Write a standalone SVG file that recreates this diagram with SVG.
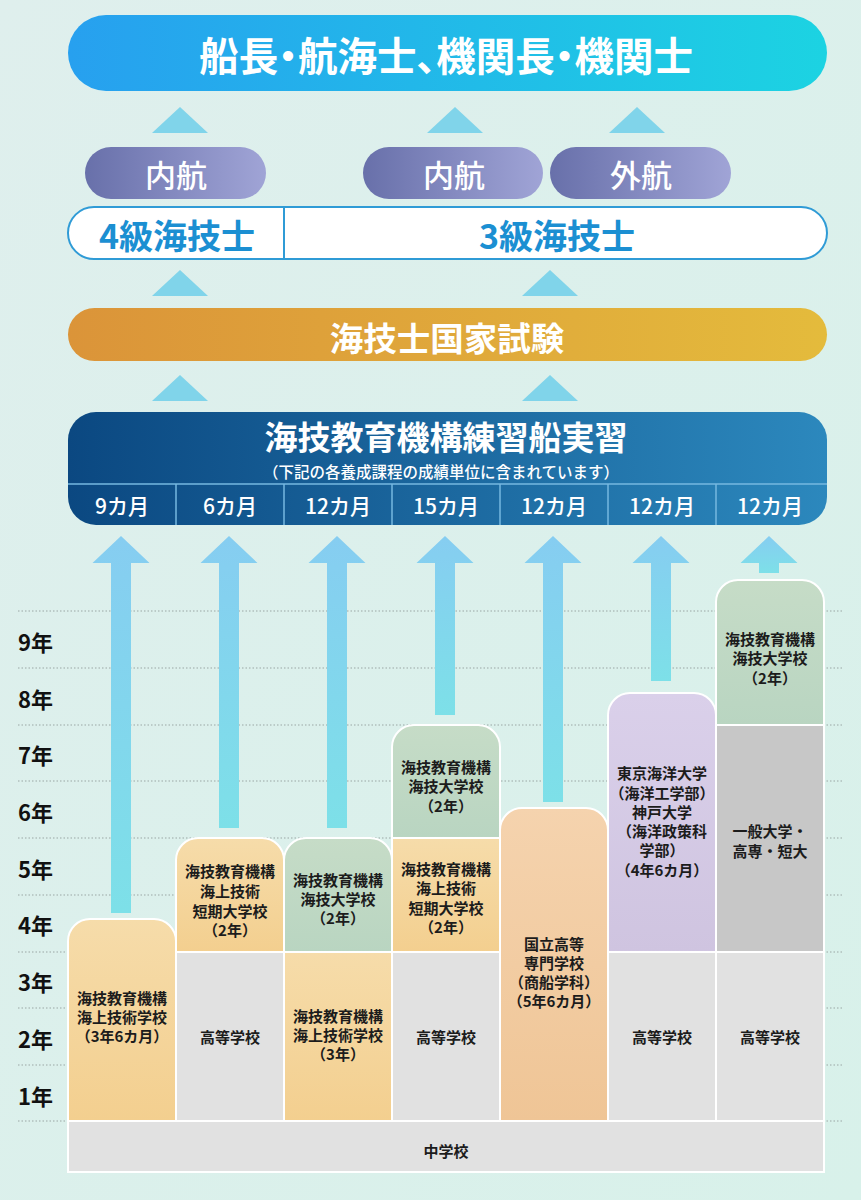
<svg xmlns="http://www.w3.org/2000/svg" width="861" height="1200" viewBox="0 0 861 1200">
<defs>
<linearGradient id="gTop" x1="0" y1="0" x2="1" y2="0"><stop offset="0" stop-color="#27a0ef"/><stop offset="1" stop-color="#1cd3e2"/></linearGradient>
<linearGradient id="gPill" x1="0" y1="0" x2="1" y2="0"><stop offset="0" stop-color="#6870aa"/><stop offset="1" stop-color="#a0a4d6"/></linearGradient>
<linearGradient id="gOr" x1="0" y1="0" x2="1" y2="0"><stop offset="0" stop-color="#db9439"/><stop offset="1" stop-color="#e4bb3c"/></linearGradient>
<linearGradient id="gNavy" x1="0" y1="0" x2="1" y2="0"><stop offset="0" stop-color="#0b4881"/><stop offset="1" stop-color="#2c88bd"/></linearGradient>
<linearGradient id="gArrow" x1="0" y1="0" x2="0" y2="1"><stop offset="0" stop-color="#86cdf1"/><stop offset="1" stop-color="#7de0e8"/></linearGradient>
<linearGradient id="gYel" x1="0" y1="0" x2="0" y2="1"><stop offset="0" stop-color="#f6dcaa"/><stop offset="1" stop-color="#f3cf8f"/></linearGradient>
<linearGradient id="gPeach" x1="0" y1="0" x2="0" y2="1"><stop offset="0" stop-color="#f5d3ae"/><stop offset="1" stop-color="#efc596"/></linearGradient>
<linearGradient id="gGreen" x1="0" y1="0" x2="0" y2="1"><stop offset="0" stop-color="#c6dcc7"/><stop offset="1" stop-color="#b9d5c1"/></linearGradient>
<linearGradient id="gPurp" x1="0" y1="0" x2="0" y2="1"><stop offset="0" stop-color="#dad0ea"/><stop offset="1" stop-color="#cfc4e0"/></linearGradient>
<linearGradient id="gBg" x1="0" y1="0" x2="1" y2="1"><stop offset="0" stop-color="#dfefed"/><stop offset="1" stop-color="#d8f1ea"/></linearGradient>
</defs>
<style>
text{font-family:"Noto Sans CJK JP","Noto Sans",sans-serif;font-weight:700;text-anchor:middle;dominant-baseline:central}
.w{fill:#ffffff}
.box{font-size:15px;fill:#1c1c1c}
.yr{font-size:22px;fill:#111111;text-anchor:start;font-weight:600}
.mo{font-size:21px;fill:#ffffff;font-weight:500}
.tri{fill:#80d4ea}
.arrow{fill:url(#gArrow)}
.grid{stroke:#9aa6a4;stroke-width:1;stroke-dasharray:1.5 2}
.cell{stroke:#ffffff;stroke-width:2}
</style>
<rect width="861" height="1200" fill="url(#gBg)"/>

<g id="grid">
<line class="grid" x1="18" y1="611" x2="842" y2="611"/>
<line class="grid" x1="18" y1="668" x2="842" y2="668"/>
<line class="grid" x1="18" y1="725" x2="842" y2="725"/>
<line class="grid" x1="18" y1="781" x2="842" y2="781"/>
<line class="grid" x1="18" y1="838" x2="842" y2="838"/>
<line class="grid" x1="18" y1="895" x2="842" y2="895"/>
<line class="grid" x1="18" y1="952" x2="842" y2="952"/>
<line class="grid" x1="18" y1="1008" x2="842" y2="1008"/>
<line class="grid" x1="18" y1="1065" x2="842" y2="1065"/>
<line class="grid" x1="18" y1="1121" x2="842" y2="1121"/>
</g>
<g id="years">
<text class="yr" x="18" y="641">9年</text>
<text class="yr" x="18" y="698">8年</text>
<text class="yr" x="18" y="754">7年</text>
<text class="yr" x="18" y="811">6年</text>
<text class="yr" x="18" y="868">5年</text>
<text class="yr" x="18" y="924">4年</text>
<text class="yr" x="18" y="981">3年</text>
<text class="yr" x="18" y="1038">2年</text>
<text class="yr" x="18" y="1095">1年</text>
</g>

<g id="connectors">
<polygon class="tri" points="152,133 180,107 208,133"/>
<polygon class="tri" points="427,133 455,107 483,133"/>
<polygon class="tri" points="609,133 637,107 665,133"/>
<polygon class="tri" points="152,296 180,270 208,296"/>
<polygon class="tri" points="522,296 550,270 578,296"/>
<polygon class="tri" points="152,401 180,375 208,401"/>
<polygon class="tri" points="522,401 550,375 578,401"/>
<polygon class="arrow" points="121,536 149.5,563 131,563 131,913 111,913 111,563 92.5,563"/>
<polygon class="arrow" points="229,536 257.5,563 239,563 239,828 219,828 219,563 200.5,563"/>
<polygon class="arrow" points="337,536 365.5,563 347,563 347,828 327,828 327,563 308.5,563"/>
<polygon class="arrow" points="445,536 473.5,563 455,563 455,715 435,715 435,563 416.5,563"/>
<polygon class="arrow" points="553,536 581.5,563 563,563 563,802 543,802 543,563 524.5,563"/>
<polygon class="arrow" points="661,536 689.5,563 671,563 671,681 651,681 651,563 632.5,563"/>
<polygon class="arrow" points="769,536 797.5,563 779,563 779,573 759,573 759,563 740.5,563"/>
</g>

<g id="goal">
<rect x="68" y="15" width="759" height="76" rx="38" fill="url(#gTop)"/>
<text class="w" x="446" y="53" style="font-size:39.5px;font-feature-settings:'palt'">船長・航海士、機関長・機関士</text>
</g>
<g id="naikou4">
<rect x="85" y="147" width="181" height="52" rx="26" fill="url(#gPill)"/>
<text class="w" x="176" y="173" style="font-size:31px;font-weight:500">内航</text>
</g>
<g id="naikou3">
<rect x="363" y="147" width="180" height="52" rx="26" fill="url(#gPill)"/>
<text class="w" x="454" y="173" style="font-size:31px;font-weight:500">内航</text>
</g>
<g id="gaikou3">
<rect x="550" y="147" width="181" height="52" rx="26" fill="url(#gPill)"/>
<text class="w" x="641" y="173" style="font-size:31px;font-weight:500">外航</text>
</g>
<g id="license">
<rect x="68" y="207" width="759" height="52" rx="26" fill="#ffffff" stroke="#2f9bd6" stroke-width="2"/>
<line x1="284" y1="207" x2="284" y2="259" stroke="#2f9bd6" stroke-width="2"/>
<text x="177" y="234" style="font-size:34px;fill:#1b8fd2">4級海技士</text>
<text x="557" y="234" style="font-size:34px;fill:#1b8fd2">3級海技士</text>
</g>
<g id="exam">
<rect x="68" y="308" width="759" height="53" rx="26.5" fill="url(#gOr)"/>
<text class="w" x="447" y="336" style="font-size:33.5px">海技士国家試験</text>
</g>
<g id="training">
<rect x="68" y="412" width="759" height="113" rx="28" fill="url(#gNavy)"/>
<text class="w" x="446" y="436" style="font-size:33px">海技教育機構練習船実習</text>
<text class="w" x="441" y="471" style="font-size:15.5px;font-weight:500">（下記の各養成課程の成績単位に含まれています）</text>
<g stroke="#76b8e0" stroke-width="1.5">
<line x1="68" y1="484" x2="827" y2="484"/>
<line x1="176" y1="484" x2="176" y2="525"/>
<line x1="284" y1="484" x2="284" y2="525"/>
<line x1="392" y1="484" x2="392" y2="525"/>
<line x1="500" y1="484" x2="500" y2="525"/>
<line x1="608" y1="484" x2="608" y2="525"/>
<line x1="716" y1="484" x2="716" y2="525"/>
</g>
<text class="mo" x="122" y="505">9カ月</text>
<text class="mo" x="230" y="505">6カ月</text>
<text class="mo" x="338" y="505">12カ月</text>
<text class="mo" x="446" y="505">15カ月</text>
<text class="mo" x="554" y="505">12カ月</text>
<text class="mo" x="662" y="505">12カ月</text>
<text class="mo" x="770" y="505">12カ月</text>
</g>

<g id="col1">
<path class="cell" d="M68 1121 V941 A22 22 0 0 1 90 919 H154 A22 22 0 0 1 176 941 V1121 Z" fill="url(#gYel)"/>
<text class="box" x="122" y="997">海技教育機構</text>
<text class="box" x="122" y="1016">海上技術学校</text>
<text class="box" x="122" y="1035">（3年6カ月）</text>
</g>
<g id="col2">
<path class="cell" d="M176 952 V860 A22 22 0 0 1 198 838 H262 A22 22 0 0 1 284 860 V952 Z" fill="url(#gYel)"/>
<text class="box" x="230" y="870">海技教育機構</text>
<text class="box" x="230" y="890">海上技術</text>
<text class="box" x="230" y="910">短期大学校</text>
<text class="box" x="230" y="929">（2年）</text>
<rect class="cell" x="176" y="952" width="108" height="169" fill="#e1e1e1"/>
<text class="box" x="230" y="1036">高等学校</text>
</g>
<g id="col3">
<path class="cell" d="M284 952 V860 A22 22 0 0 1 306 838 H370 A22 22 0 0 1 392 860 V952 Z" fill="url(#gGreen)"/>
<text class="box" x="338" y="879">海技教育機構</text>
<text class="box" x="338" y="898">海技大学校</text>
<text class="box" x="338" y="917">（2年）</text>
<rect class="cell" x="284" y="952" width="108" height="169" fill="url(#gYel)"/>
<text class="box" x="338" y="1015">海技教育機構</text>
<text class="box" x="338" y="1034">海上技術学校</text>
<text class="box" x="338" y="1053">（3年）</text>
</g>
<g id="col4">
<path class="cell" d="M392 838 V747 A22 22 0 0 1 414 725 H478 A22 22 0 0 1 500 747 V838 Z" fill="url(#gGreen)"/>
<text class="box" x="446" y="766">海技教育機構</text>
<text class="box" x="446" y="785">海技大学校</text>
<text class="box" x="446" y="805">（2年）</text>
<rect class="cell" x="392" y="838" width="108" height="114" fill="url(#gYel)"/>
<text class="box" x="446" y="868">海技教育機構</text>
<text class="box" x="446" y="887">海上技術</text>
<text class="box" x="446" y="907">短期大学校</text>
<text class="box" x="446" y="926">（2年）</text>
<rect class="cell" x="392" y="952" width="108" height="169" fill="#e1e1e1"/>
<text class="box" x="446" y="1036">高等学校</text>
</g>
<g id="col5">
<path class="cell" d="M500 1121 V830 A22 22 0 0 1 522 808 H586 A22 22 0 0 1 608 830 V1121 Z" fill="url(#gPeach)"/>
<text class="box" x="554" y="943">国立高等</text>
<text class="box" x="554" y="962">専門学校</text>
<text class="box" x="554" y="981">（商船学科）</text>
<text class="box" x="554" y="1000">（5年6カ月）</text>
</g>
<g id="col6">
<path class="cell" d="M608 952 V715 A22 22 0 0 1 630 693 H694 A22 22 0 0 1 716 715 V952 Z" fill="url(#gPurp)"/>
<text class="box" x="662" y="772">東京海洋大学</text>
<text class="box" x="662" y="792">（海洋工学部）</text>
<text class="box" x="662" y="811">神戸大学</text>
<text class="box" x="662" y="830">（海洋政策科</text>
<text class="box" x="662" y="849">学部）</text>
<text class="box" x="662" y="869">（4年6カ月）</text>
<rect class="cell" x="608" y="952" width="108" height="169" fill="#e1e1e1"/>
<text class="box" x="662" y="1036">高等学校</text>
</g>
<g id="col7">
<path class="cell" d="M716 725 V602 A22 22 0 0 1 738 580 H802 A22 22 0 0 1 824 602 V725 Z" fill="url(#gGreen)"/>
<text class="box" x="770" y="638">海技教育機構</text>
<text class="box" x="770" y="657">海技大学校</text>
<text class="box" x="770" y="677">（2年）</text>
<rect class="cell" x="716" y="725" width="108" height="227" fill="#c7c7c7"/>
<text class="box" x="770" y="830">一般大学・</text>
<text class="box" x="770" y="850">高専・短大</text>
<rect class="cell" x="716" y="952" width="108" height="169" fill="#e1e1e1"/>
<text class="box" x="770" y="1036">高等学校</text>
</g>
<g id="junior">
<rect class="cell" x="68" y="1121" width="756" height="51" fill="#e1e1e1"/>
<text class="box" x="446" y="1150">中学校</text>
</g>
</svg>
